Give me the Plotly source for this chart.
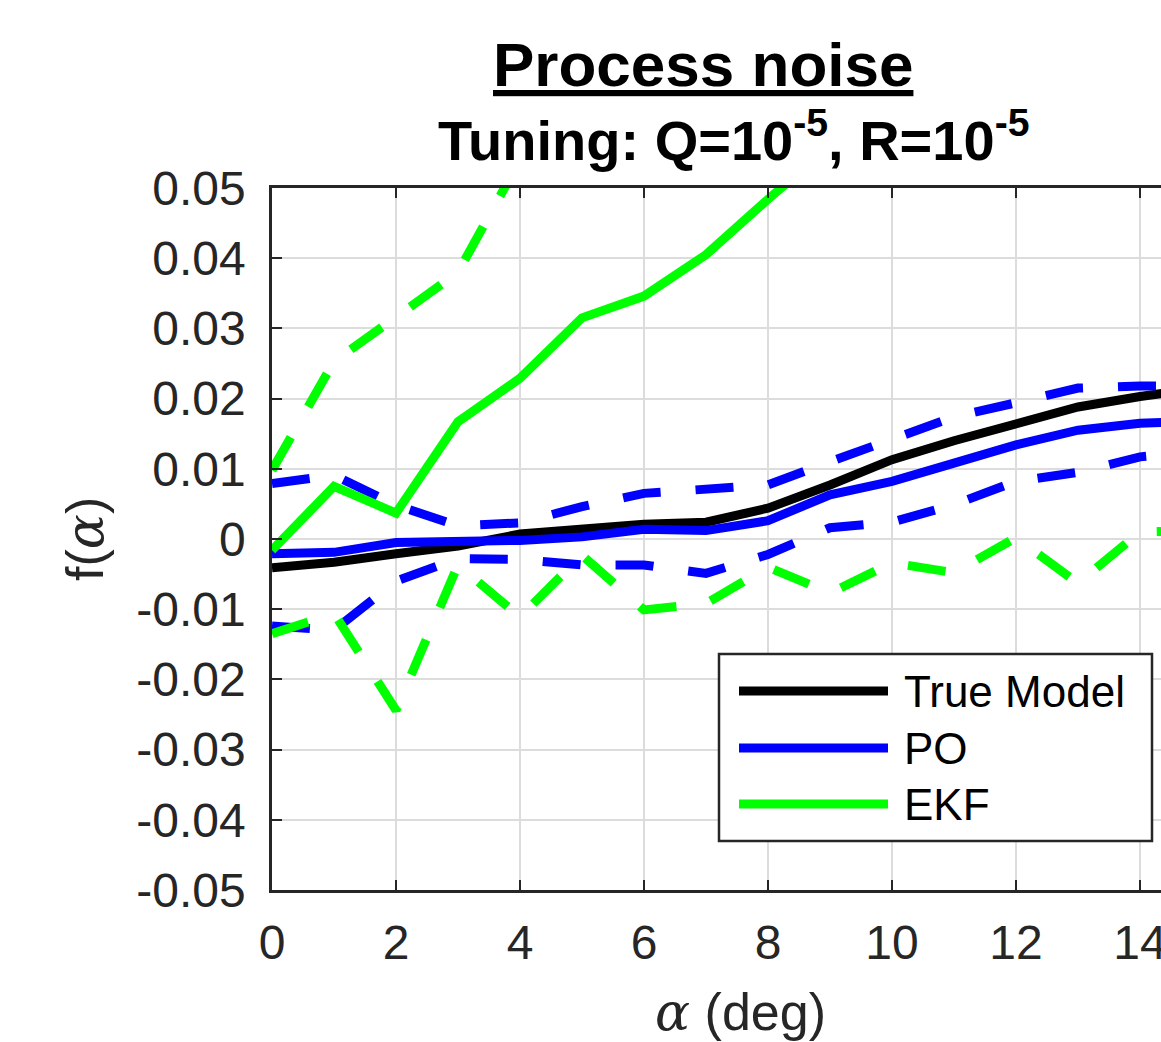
import plotly.graph_objects as go

# ---------------- data ----------------
alpha = [0, 1, 2, 3, 4, 5, 6, 7, 8, 9, 10, 11, 12, 13, 14, 15]

true_model = [-0.0041, -0.0033, -0.0021, -0.0010, 0.0007, 0.0015, 0.0021, 0.0024,
              0.0044, 0.0077, 0.0113, 0.0140, 0.0165, 0.0188, 0.0203, 0.0215]

po = [-0.0021, -0.0019, -0.0005, -0.0004, -0.0002, 0.0003, 0.0014, 0.0012,
      0.0026, 0.0063, 0.0082, 0.0108, 0.0134, 0.0155, 0.0165, 0.0168]
po_upper = [0.0079, 0.0091, 0.0048, 0.0019, 0.0023, 0.0046, 0.0065, 0.0071,
            0.0077, 0.0110, 0.0142, 0.0174, 0.0194, 0.0215, 0.0218, 0.0218]
po_lower = [-0.0124, -0.0130, -0.0060, -0.0028, -0.0029, -0.0037, -0.0037, -0.0049,
            -0.0022, 0.0016, 0.0024, 0.0049, 0.0082, 0.0095, 0.0117, 0.0125]

alpha_ekf = [0, 1, 2, 3, 4, 5, 6, 7, 8, 9]
ekf = [-0.0016, 0.0075, 0.0037, 0.0167, 0.0229, 0.0315, 0.0346, 0.0405, 0.0484, 0.0560]

alpha_ekf_upper = [0, 1, 2, 3, 4]
ekf_upper = [0.0098, 0.0253, 0.0316, 0.0380, 0.0540]

ekf_lower = [-0.0135, -0.0106, -0.0244, -0.0037, -0.0111, -0.0023, -0.0101, -0.0092,
             -0.0040, -0.0077, -0.0034, -0.0048, 0.0002, -0.0063, 0.0010, 0.0012]

x_ticks = [0, 2, 4, 6, 8, 10, 12, 14]
x_tick_labels = ["0", "2", "4", "6", "8", "10", "12", "14"]
y_ticks = [0.05, 0.04, 0.03, 0.02, 0.01, 0, -0.01, -0.02, -0.03, -0.04, -0.05]
y_tick_labels = ["0.05", "0.04", "0.03", "0.02", "0.01", "0",
                 "-0.01", "-0.02", "-0.03", "-0.04", "-0.05"]

legend_names = ["True Model", "PO", "EKF"]

# ---------------- styling ----------------
BLACK = "#000000"
BLUE = "#0000ff"
GREEN = "#00ff00"
AX = "#262626"
FONT = "Liberation Sans, Arial, Helvetica, sans-serif"
LW = 9
DASH = "38px,35px"

W, H = 1161, 1042
ML, MT, MB, MR = 272, 188, 152, 0

fig = go.Figure()

def add(x, y, color, dash="solid"):
    fig.add_trace(go.Scatter(x=x, y=y, mode="lines", showlegend=False,
                             line=dict(color=color, width=LW, dash=dash),
                             hoverinfo="skip"))

add(alpha, true_model, BLACK)
add(alpha, po, BLUE)
add(alpha, po_upper, BLUE, DASH)
add(alpha, po_lower, BLUE, DASH)
add(alpha_ekf, ekf, GREEN)
add(alpha_ekf_upper, ekf_upper, GREEN, DASH)
add(alpha, ekf_lower, GREEN, DASH)

plot_w = W - ML - MR
plot_h = H - MT - MB
x_max = plot_w / 62.0

fig.update_layout(
    width=W, height=H,
    margin=dict(l=ML, r=MR, t=MT, b=MB, pad=0, autoexpand=False),
    paper_bgcolor="white", plot_bgcolor="white",
    font=dict(family=FONT, color=AX),
    showlegend=False,
)

fig.update_xaxes(
    range=[0, x_max], tickvals=x_ticks, ticktext=x_tick_labels,
    showgrid=True, gridcolor="#dcdcdc", gridwidth=2,
    showline=True, linecolor=AX, linewidth=2.5, mirror="ticks",
    ticks="inside", ticklen=10, tickwidth=2, tickcolor=AX,
    tickfont=dict(size=48, color=AX, family=FONT),
    ticklabelstandoff=9, ticklabeloverflow="allow", zeroline=False,
    automargin=False,
)
fig.update_yaxes(
    range=[-0.05, 0.05], tickvals=y_ticks, ticktext=y_tick_labels,
    showgrid=True, gridcolor="#dcdcdc", gridwidth=2,
    showline=True, linecolor=AX, linewidth=2.5, mirror=False,
    ticks="inside", ticklen=10, tickwidth=2, tickcolor=AX,
    tickfont=dict(size=48, color=AX, family=FONT),
    ticklabelstandoff=14, zeroline=False, automargin=False,
)

def px_x(p):
    return (p - ML) / plot_w

def px_y(p):
    return (H - MB - p) / plot_h

# ---------------- legend (drawn manually to match the long MATLAB samples) ----------------
fig.add_shape(type="rect", xref="paper", yref="paper",
              x0=px_x(719), x1=px_x(1152), y0=px_y(841), y1=px_y(654),
              line=dict(color=AX, width=2.5), fillcolor="white", layer="above")
leg_y = [691, 748, 804]
leg_colors = [BLACK, BLUE, GREEN]
for name, yy, col in zip(legend_names, leg_y, leg_colors):
    fig.add_shape(type="line", xref="paper", yref="paper",
                  x0=px_x(739), x1=px_x(888), y0=px_y(yy), y1=px_y(yy),
                  line=dict(color=col, width=9), layer="above")
    fig.add_annotation(xref="paper", yref="paper", x=px_x(902), y=px_y(yy),
                       xanchor="left", yanchor="middle", showarrow=False,
                       text=name, font=dict(size=44, color="black", family=FONT))

# ---------------- titles and axis labels ----------------
fig.add_annotation(xref="paper", yref="paper", x=px_x(703), y=1, yshift=124,
                   xanchor="center", yanchor="middle", showarrow=False,
                   text="<b><u>Process noise</u></b>",
                   font=dict(size=62, color="black", family=FONT))
fig.add_annotation(xref="paper", yref="paper", x=px_x(733), y=1, yshift=52,
                   xanchor="center", yanchor="middle", showarrow=False,
                   text="<b>Tuning: Q=10<sup>-5</sup>, R=10<sup>-5</sup></b>",
                   font=dict(size=56, color="black", family=FONT))
fig.add_annotation(xref="paper", yref="paper", x=px_x(740), y=0, yshift=-122,
                   xanchor="center", yanchor="middle", showarrow=False,
                   text="<span style='font-family:DejaVu Serif'><i>α</i></span> (deg)",
                   font=dict(size=52, color=AX, family=FONT))
fig.add_annotation(xref="paper", yref="paper", x=0, xshift=-187, y=0.5,
                   xanchor="center", yanchor="middle", showarrow=False, textangle=-90,
                   text="f(<span style='font-family:DejaVu Serif'><i>α</i></span>)",
                   font=dict(size=52, color=AX, family=FONT))

fig.write_html("out.html")
